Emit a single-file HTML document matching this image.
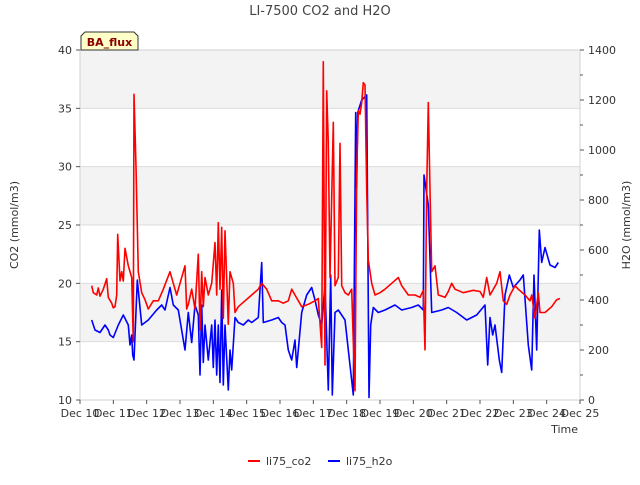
<!DOCTYPE html>
<html><head><meta charset="utf-8"><style>
body{margin:0;background:#fff;font-family:"Liberation Sans","DejaVu Sans",sans-serif}
svg text{font-family:"DejaVu Sans","Liberation Sans",sans-serif}
</style></head><body>
<svg id="chart" width="640" height="480" xmlns="http://www.w3.org/2000/svg"></svg>
<script>
const dayTicks=[10,11,12,13,14,15,16,17,18,19,20,21,22,23,24,25];
const co2Ticks=[10,15,20,25,30,35,40];
const h2oTicks=[0,200,400,600,800,1000,1200,1400];
const co2Days=[10.35,10.4,10.5,10.55,10.6,10.7,10.8,10.85,10.95,11.0,11.05,11.1,11.13,11.2,11.25,11.3,11.35,11.45,11.55,11.6,11.62,11.68,11.75,11.85,11.95,12.05,12.2,12.35,12.5,12.7,12.8,12.9,13.15,13.2,13.25,13.35,13.45,13.55,13.6,13.65,13.7,13.75,13.85,13.95,14.05,14.1,14.15,14.2,14.25,14.3,14.35,14.45,14.5,14.6,14.65,14.75,14.95,15.15,15.35,15.45,15.6,15.75,15.95,16.1,16.25,16.35,16.45,16.65,16.85,17.05,17.15,17.25,17.3,17.35,17.4,17.45,17.5,17.6,17.65,17.75,17.8,17.85,17.95,18.05,18.15,18.2,18.25,18.3,18.35,18.4,18.45,18.5,18.55,18.6,18.65,18.75,18.85,19.0,19.15,19.35,19.55,19.65,19.85,20.05,20.2,20.3,20.35,20.4,20.45,20.5,20.55,20.65,20.75,20.95,21.05,21.15,21.25,21.5,21.8,22.0,22.1,22.2,22.3,22.5,22.6,22.7,22.8,22.9,23.05,23.15,23.35,23.5,23.55,23.65,23.75,23.8,23.95,24.15,24.3,24.4];
const co2Vals=[19.8,19.2,19.0,19.6,18.9,19.5,20.4,18.8,18.3,17.9,18.0,19.0,24.2,20.2,21.0,20.2,23.0,21.5,20.5,15.0,36.2,30,21.0,19.2,18.6,17.8,18.5,18.5,19.5,21.0,20.0,19.0,21.5,17.8,18.2,19.5,17.8,22.5,16.0,21.0,18.0,20.5,19.0,20.0,23.5,19.0,25.2,19.5,24.8,17.0,24.5,16.5,21.0,20.0,17.5,18.0,18.5,19.0,19.5,20.0,19.5,18.5,18.5,18.3,18.5,19.5,19.0,18.0,18.2,18.5,18.7,14.5,39.0,13.0,36.5,32,20.5,33.8,19.8,20.5,32.0,19.8,19.2,19.0,19.5,15,10.8,29.5,34.8,34.5,35.5,37.2,37.0,28,22.0,20.0,19.0,19.2,19.5,20.0,20.5,19.8,19.0,19.0,18.8,19.4,14.3,28.0,35.5,28,21.0,21.5,19.0,18.8,19.3,20.0,19.5,19.2,19.4,19.3,18.8,20.5,19.0,20.0,21.0,18.5,18.2,19.0,19.8,19.5,19.0,18.5,19.0,17.0,19.2,17.5,17.5,18.0,18.6,18.7];
const h2oDays=[10.35,10.45,10.6,10.75,10.85,10.9,11.0,11.15,11.3,11.45,11.5,11.55,11.58,11.62,11.72,11.85,12.05,12.3,12.45,12.55,12.7,12.8,12.95,13.15,13.25,13.35,13.45,13.55,13.6,13.65,13.7,13.75,13.85,13.95,14.0,14.05,14.1,14.15,14.2,14.25,14.3,14.35,14.45,14.5,14.55,14.65,14.75,14.9,15.05,15.15,15.35,15.45,15.5,15.75,15.95,16.05,16.15,16.25,16.35,16.45,16.5,16.65,16.8,16.95,17.05,17.15,17.25,17.35,17.45,17.52,17.57,17.65,17.75,17.95,18.2,18.27,18.3,18.33,18.45,18.6,18.67,18.72,18.8,18.95,19.15,19.45,19.65,19.95,20.15,20.3,20.32,20.45,20.55,20.85,21.05,21.3,21.6,21.9,22.15,22.23,22.3,22.38,22.45,22.58,22.65,22.75,22.88,23.0,23.2,23.3,23.45,23.55,23.62,23.7,23.78,23.85,23.95,24.1,24.25,24.35];
const h2oVals=[320,280,270,300,280,260,250,300,340,300,220,260,180,160,480,300,320,360,380,360,450,380,360,200,350,230,380,340,100,380,150,300,160,300,130,320,100,300,70,440,60,300,40,200,120,330,310,300,320,310,330,550,310,320,330,310,300,200,160,240,130,350,420,450,400,340,300,460,40,500,20,350,360,320,20,1150,850,1150,1200,1220,10,300,370,350,360,380,360,370,380,360,900,780,350,360,370,350,320,340,380,140,330,260,300,160,110,420,500,450,480,500,220,120,500,200,680,550,610,540,530,550];

const L=80,R=580,T=50,B=400;
const xS=d=>L+(d-10)/15*(R-L);
const yL=v=>B-(v-10)/30*(B-T);
const yR=v=>B-v/1400*(B-T);
const svg=document.getElementById('chart');
const NS='http://www.w3.org/2000/svg';
function mk(tag,attrs,parent){const e=document.createElementNS(NS,tag);for(const k in attrs)e.setAttribute(k,attrs[k]);(parent||svg).appendChild(e);return e;}
function txt(s,attrs,name){const e=mk('text',attrs);e.textContent=s;

return e;}

[[35,40],[25,30],[15,20]].forEach(b=>{const r=mk('rect',{x:L,y:yL(b[1]),width:R-L,height:yL(b[0])-yL(b[1]),fill:'#f3f3f3'});

});
co2Ticks.forEach(v=>{const g=mk('line',{x1:L,x2:R,y1:yL(v),y2:yL(v),stroke:'#dcdcdc','stroke-width':1});

});
const fr=mk('rect',{x:L,y:T,width:R-L,height:B-T,fill:'none',stroke:'#d0d0d0'});



co2Ticks.forEach(v=>{mk('line',{x1:L-4,x2:L,y1:yL(v),y2:yL(v),stroke:'#555'});
txt(v,{x:L-8,y:yL(v)+4,'text-anchor':'end','font-size':11,fill:'#333'},'y-left-tick-label');});
h2oTicks.forEach(v=>{mk('line',{x1:R,x2:R+4,y1:yR(v),y2:yR(v),stroke:'#555'});
txt(v,{x:R+8,y:yR(v)+4,'font-size':11,fill:'#333'},'y-right-tick-label');});
for(let v=100;v<1400;v+=200)mk('line',{x1:R,x2:R+3,y1:yR(v),y2:yR(v),stroke:'#555'});
dayTicks.forEach(d=>{mk('line',{x1:xS(d),x2:xS(d),y1:B,y2:B+4,stroke:'#555'});
txt('Dec '+d,{x:xS(d),y:B+17,'text-anchor':'middle','font-size':11,fill:'#333'},'x-tick-label');});

txt('LI-7500 CO2 and H2O',{x:320,y:15,'text-anchor':'middle','font-size':13,fill:'#444'},'chart-title');
txt('Time',{x:578,y:433,'text-anchor':'end','font-size':11,fill:'#333'},'x-axis-title');
txt('CO2 (mmol/m3)',{x:18,y:225,'text-anchor':'middle','font-size':11,fill:'#333',transform:'rotate(-90 18 225)'},'y-left-axis-title');
txt('H2O (mmol/m3)',{x:630,y:225,'text-anchor':'middle','font-size':11,fill:'#333',transform:'rotate(-90 630 225)'},'y-right-axis-title');

function line(days,vals,ys,color,name){const p=mk('polyline',{points:days.map((d,i)=>xS(d).toFixed(1)+','+ys(vals[i]).toFixed(1)).join(' '),fill:'none',stroke:color,'stroke-width':1.6,'stroke-linejoin':'round'});

}
line(h2oDays,h2oVals,yR,'#0000ff','li75-h2o-line');
line(co2Days,co2Vals,yL,'#ff0000','li75-co2-line');

const bp=mk('path',{d:'M81,50 L81,36 L85,32 L134,32 L138,36 L138,50 Z',fill:'#ffffc8',stroke:'#333','stroke-width':1});


txt('BA_flux',{x:109.5,y:46,'text-anchor':'middle','font-size':11,'font-weight':'bold',fill:'#8b0000'},'ba-flux-label');

const l1=mk('line',{x1:248,x2:260,y1:461,y2:461,stroke:'#ff0000','stroke-width':2});


txt('li75_co2',{x:266,y:465,'font-size':11,fill:'#333'},'legend-co2-label');
const l2=mk('line',{x1:328,x2:340,y1:461,y2:461,stroke:'#0000ff','stroke-width':2});


txt('li75_h2o',{x:346,y:465,'font-size':11,fill:'#333'},'legend-h2o-label');
</script>
</body></html>
